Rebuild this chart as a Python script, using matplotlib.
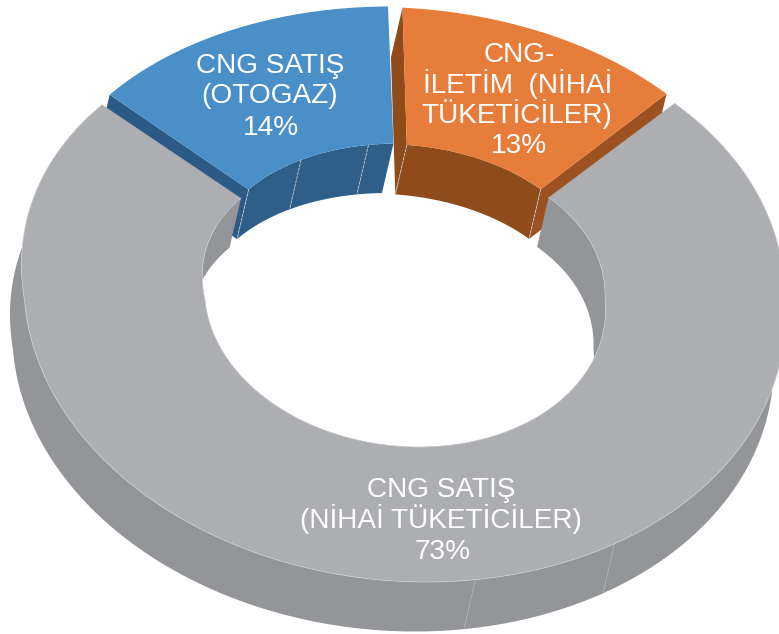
import numpy as np
from matplotlib import pyplot as plt

plt.rcParams['font.family'] = ['Liberation Sans', 'DejaVu Sans']

## Values, clockwise from the top
names = ['orange', 'gray', 'blue']
shares = [13, 73, 14]
label_lines = [['CNG-', 'İLETİM  (NİHAİ', 'TÜKETİCİLER)', '13%'],
               ['CNG SATIŞ', '(NİHAİ TÜKETİCİLER)', '73%'],
               ['CNG SATIŞ', '(OTOGAZ)', '14%']]

## Colours: top, inner wall, cut face
top_col = {'orange': '#E67D3A', 'gray': '#ADAEB1', 'blue': '#4A8FC7'}
wall_col = {'orange': '#8F4B19', 'gray': '#949598', 'blue': '#2D5F89'}
face_col = {'orange': '#9C5220', 'gray': '#949598', 'blue': '#2A5A85'}

## Pixel layout of the fake 3D ring
start_angle = 1.6
warp = 3.5
depth = np.array([-11.5, 49.5])
seam_col = '#C9CDD2'


def ring(t_deg, r):
    t = np.radians(t_deg - warp*np.sin(np.radians(t_deg)))
    s, c = np.sin(t), np.cos(t)
    x = r['cx'] + (r['a'] + r['w']*np.maximum(c, 0))*s - r['q']*c + r.get('dx', 0)
    y = r['cy'] - r['b']*c + r.get('dy', 0)
    return np.column_stack([x, y])


def band(ax, pts, col, z):
    poly = np.vstack([pts, (pts + depth)[::-1]])
    ax.fill(poly[:, 0], poly[:, 1], color=col, lw=0, zorder=z)


def seam(ax, p, z=6, lw=0.6):
    ax.plot([p[0], p[0]+depth[0]], [p[1], p[1]+depth[1]], color=seam_col, lw=lw, ls=(0, (4, 1)), zorder=z)


def slice_top(ax, ts_out, ts_in, out, inn, col, z):
    poly = np.vstack([ring(ts_out, out), ring(ts_in, inn)[::-1]])
    ax.fill(poly[:, 0], poly[:, 1], color=col, lw=0, zorder=z)


outer = {'cx': 404.5, 'cy': 300, 'a': 380, 'b': 282, 'q': 22, 'w': 26}
inner = {'cx': 405, 'cy': 300, 'a': 200, 'b': 147, 'q': 14, 'w': 20}

edges = start_angle + 3.6*np.concatenate([[0], np.cumsum(shares)])

fig = plt.figure(figsize=(7.79, 6.34), dpi=100)
ax = fig.add_axes([0, 0, 1, 1])
ax.set_xlim(0, 779)
ax.set_ylim(634, 0)
ax.axis('off')

## gray part, its inner wall covers the cut faces of the raised slices
g0, g1 = edges[1], edges[2]
ts = np.linspace(g0, g1, 400)
band(ax, ring(ts, outer), wall_col['gray'], 1)
band(ax, ring(ts, inner), wall_col['gray'], 3)
slice_top(ax, ts, ts, outer, inner, top_col['gray'], 5)
pts = ring(ts, outer)
ax.plot(pts[:, 0], pts[:, 1], color='#CDCED0', lw=0.5, zorder=5)
pts = ring(ts, inner)
ax.plot(pts[:, 0], pts[:, 1], color='#CDCED0', lw=0.5, zorder=5)
for t in [151.5, 173]:
    seam(ax, ring(np.array([t]), outer)[0], lw=0.4)

## raised slices
offsets = {'orange': (-8, -6), 'blue': (7.5, -6.5)}
gap_out = {'orange': 2.6, 'blue': 1.9}
gap_in = {'orange': 5.0, 'blue': 3.0}
extra_seams = {'orange': [], 'blue': [-8.4, -28.7]}
for i in [2, 0]:
    name = names[i]
    dx, dy = offsets[name]
    out = dict(outer, b=287, dx=dx, dy=dy)
    inn = dict(inner, b=150, dx=dx, dy=dy)
    if name == 'orange':
        t_out = np.linspace(edges[i]+gap_out[name], edges[i+1], 120)
        t_in = np.linspace(edges[i]+gap_in[name], edges[i+1], 120)
    else:
        t_out = np.linspace(edges[i], edges[i+1]-gap_out[name], 120)
        t_in = np.linspace(edges[i], edges[i+1]-gap_in[name], 120)
    band(ax, ring(t_in, inn), wall_col[name], 2)

    ## cut face towards the gray part
    t_cut = edges[i+1] if name == 'orange' else edges[i]
    p_o = ring(np.array([t_cut]), out)[0]
    p_i = ring(np.array([t_cut]), inn)[0]
    cut = np.array([p_o, p_i, p_i+depth, p_o+depth])
    ax.fill(cut[:, 0], cut[:, 1], color=face_col[name], lw=0, zorder=2)
    seam(ax, p_i)
    for t in extra_seams[name]:
        seam(ax, ring(np.array([t]), inn)[0])

    ## orange also shows its other cut face at the gap
    if name == 'orange':
        p_o = ring(t_out[:1], out)[0]
        p_i = ring(t_in[:1], inn)[0]
        cut = np.array([p_o, p_i, p_i+depth, p_o+depth])
        ax.fill(cut[:, 0], cut[:, 1], color=wall_col[name], lw=0, zorder=3)
        seam(ax, p_i)
    slice_top(ax, t_out, t_in, out, inn, top_col[name], 4)

## labels
label_x = [[519, 518, 517, 519], [441, 441, 443], [270, 270, 271]]
label_y = [[62, 93, 123, 153], [497, 528, 559], [73, 103, 135]]
for lines, xs, ys in zip(label_lines, label_x, label_y):
    for line, x, y in zip(lines, xs, ys):
        ax.text(x, y, line, color='white', fontsize=20.2, ha='center', va='baseline', zorder=8)

plt.savefig('out.png', dpi=100)
